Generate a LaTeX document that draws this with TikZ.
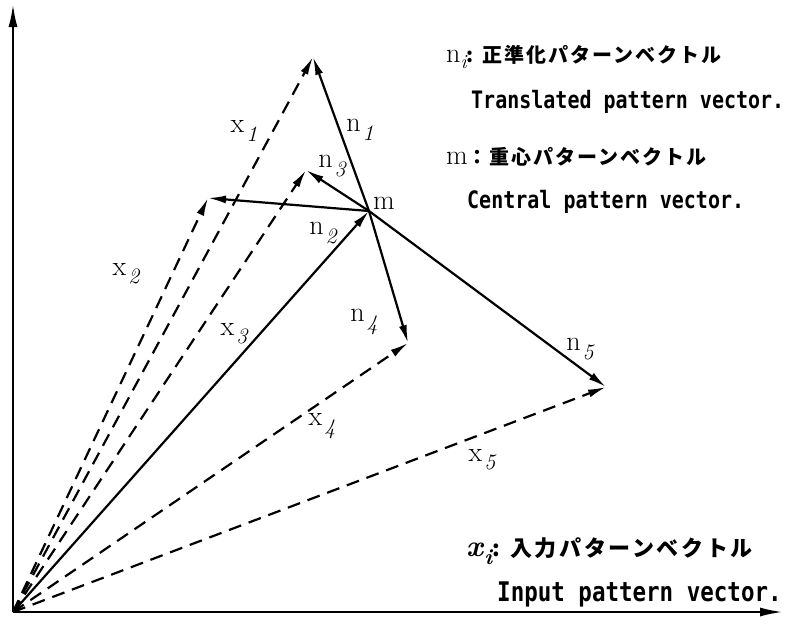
\documentclass[tikz,border=0pt]{standalone}
\usepackage{graphicx}
\usepackage{fontspec}
\usetikzlibrary{arrows.meta}
\newfontfamily\jpfont{Noto Sans CJK JP}[LetterSpace=10]
\newfontfamily\jpfontw{Noto Sans CJK JP}[LetterSpace=12]
\newfontfamily\enfont{DejaVu Sans Mono}
\newcommand\lab[2]{#1\kern2pt\raisebox{-0.3em}{\fontsize{22}{24}\selectfont\itshape #2}}
\newcommand\entxt[1]{\scalebox{1}[1.2]{#1}}
\tikzset{
  vec/.style={line width=2.2pt,-{Latex[length=18pt,width=8pt]}},
  dvec/.style={line width=2.2pt,dash pattern=on 13pt off 8pt,-{Latex[length=18pt,width=8pt]}},
  axis/.style={line width=2.8pt,-{Latex[length=24pt,width=9pt]}},
  lbl/.style={font=\fontsize{28}{30}\selectfont,inner sep=0pt},
  en/.style={font=\enfont\bfseries\fontsize{20}{22}\selectfont,anchor=west,inner sep=0pt},
  enb/.style={font=\enfont\bfseries\fontsize{22.5}{24}\selectfont,anchor=west,inner sep=0pt},
  jp/.style={font=\fontsize{28}{30}\selectfont,anchor=west,inner sep=0pt}
}
\begin{document}
\begin{tikzpicture}[x=1pt,y=-1pt]
\useasboundingbox[fill=white] (0,0) rectangle (798,625);
\coordinate (O) at (13,612);
\coordinate (Y) at (13,3);
\coordinate (X) at (784,612);
\coordinate (m) at (369,211);
\coordinate (p1) at (313,57);
\coordinate (p2) at (208,198);
\coordinate (p3) at (306,170);
\coordinate (p4) at (408,343);
\coordinate (p5) at (606,387);
% axes
\draw[axis] (O) -- (Y);
\draw[axis] (O) -- (X);
% input vectors
\draw[dvec] (O) -- (p1);
\draw[dvec] (O) -- (p2);
\draw[dvec] (O) -- (p3);
\draw[dvec] (O) -- (p4);
\draw[dvec] (O) -- (p5);
\draw[vec] (O) -- (m);
% translated vectors
\draw[vec] (m) -- (p1);
\draw[vec] (m) -- (p2);
\draw[vec] (m) -- (p3);
\draw[vec] (m) -- (p4);
\draw[vec] (m) -- (p5);
% labels
\node[lbl] (lx1) at (244,131) {\lab{x}{1}};
\node[lbl] (ln1) at (360,130) {\lab{n}{1}};
\node[lbl] (ln3) at (332,166) {\lab{n}{3}};
\node[lbl] (lm) at (384,203) {m};
\node[lbl] (ln2) at (323,233) {\lab{n}{2}};
\node[lbl] (lx2) at (126,274) {\lab{x}{2}};
\node[lbl] (lx3) at (234,334) {\lab{x}{3}};
\node[lbl] (ln4) at (364,322) {\lab{n}{4}};
\node[lbl] (lx4) at (322,426) {\lab{x}{4}};
\node[lbl] (ln5) at (580,349) {\lab{n}{5}};
\node[lbl] (lx5) at (482,460) {\lab{x}{5}};
% legend
\node[jp] (t1) at (446,57) {n\raisebox{-0.2em}{\fontsize{20}{22}\selectfont\itshape i}\fontsize{20}{22}\selectfont\jpfont\bfseries: 正準化パターンベクトル};
\node[en] (t2) at (471,102) {\entxt{Translated pattern vector.}};
\node[jp] (t3) at (446,157) {m\fontsize{20}{22}\selectfont\jpfont\bfseries：重心パターンベクトル};
\node[en] (t4) at (467,202) {\entxt{Central pattern vector.}};
\node[jp] (t5) at (466,551) {\fontsize{30}{32}\selectfont\textbf{\textit{x}}\raisebox{-0.25em}{\fontsize{22}{24}\selectfont\bfseries\itshape i}\fontsize{22}{24}\selectfont\jpfontw\bfseries: 入力パターンベクトル};
\node[enb] (t6) at (497,594) {\entxt{Input pattern vector.}};
\end{tikzpicture}
\end{document}
